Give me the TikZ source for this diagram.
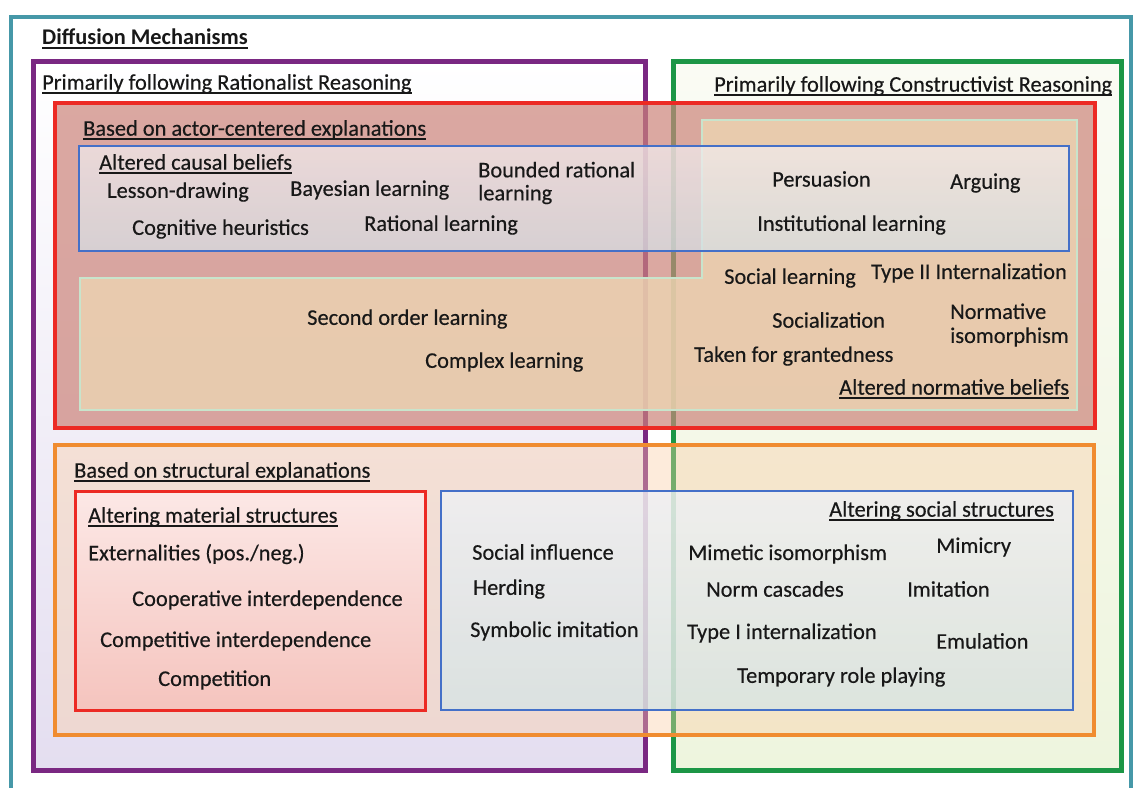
\documentclass[tikz,border=0pt]{standalone}
\usepackage{fontspec}
\setmainfont{Carlito}
\newfontfamily\txtfont{Carlito}[FakeBold=0.35]
\newsavebox{\undlbox}
\newcommand{\undl}[1]{\sbox{\undlbox}{#1}\rlap{\rule[-4.2pt]{\wd\undlbox}{1.5pt}}\usebox{\undlbox}}
\definecolor{teal}{RGB}{70,152,168}
\definecolor{purp}{RGB}{122,40,130}
\definecolor{purpfill}{RGB}{228,222,240}
\definecolor{grn}{RGB}{28,150,70}
\definecolor{grntop}{RGB}{250,251,244}
\definecolor{grnbot}{RGB}{238,245,222}
\definecolor{redl}{RGB}{236,42,36}
\definecolor{redfill}{RGB}{204,132,122}
\definecolor{tanfill}{RGB}{236,212,178}
\definecolor{tanline}{RGB}{200,228,204}
\definecolor{bluel}{RGB}{68,112,200}
\definecolor{bluetop}{RGB}{242,236,238}
\definecolor{bluebot}{RGB}{214,224,230}
\definecolor{orng}{RGB}{240,140,48}
\definecolor{orngfill}{RGB}{250,205,165}
\definecolor{mattop}{RGB}{252,232,230}
\definecolor{matbot}{RGB}{245,196,190}
\definecolor{soctop}{RGB}{238,241,246}
\definecolor{socbot}{RGB}{214,228,228}
\definecolor{txt}{RGB}{24,24,24}
\tikzset{
  lbl/.style={anchor=west, inner sep=0pt, text=txt, font=\txtfont\fontsize{22.4}{23}\selectfont},
  two/.style={lbl, align=left},
  frame/.style={line join=miter},
}
\begin{document}
\begin{tikzpicture}[x=1pt,y=-1pt]
\useasboundingbox (0,0) rectangle (1134,787);
\fill[white] (0,0) rectangle (1134,787);
\begin{scope}
\clip (0,0) rectangle (1134,787);
\draw[teal, line width=4] (11,17) rectangle (1131,800);
\end{scope}
% purple and green columns
\shade[top color=white, bottom color=purpfill] (33,61) rectangle (645,770);
\draw[purp, line width=5, frame] (33,61) rectangle (645,770);
\shade[top color=grntop, bottom color=grnbot] (673,61) rectangle (1121,770);
\draw[grn, line width=5, frame] (673,61) rectangle (1121,770);
% actor-centered box
\fill[redfill, fill opacity=0.7] (55,103) rectangle (1095,428);
% altered normative beliefs (tan)
\fill[tanfill, fill opacity=0.8] (702,120) -- (1077,120) -- (1077,410) -- (80,410) -- (80,278) -- (702,278) -- cycle;
\draw[tanline, line width=2] (702,120) -- (1077,120) -- (1077,410) -- (80,410) -- (80,278) -- (702,278) -- cycle;
\draw[redl, line width=4, frame] (55,103) rectangle (1095,428);
% altered causal beliefs (blue)
\shade[top color=bluetop, bottom color=bluebot, fill opacity=0.72] (79,146) rectangle (1069,251);
\draw[bluel, line width=2.5] (79,146) rectangle (1069,251);
% structural explanations (orange)
\fill[orngfill, fill opacity=0.4] (55,445) rectangle (1094,735);
\draw[orng, line width=4, frame] (55,445) rectangle (1094,735);
% altering material structures
\shade[top color=mattop, bottom color=matbot] (75,491) rectangle (425,710);
\draw[redl, line width=3, frame] (75,491) rectangle (425,710);
% altering social structures
\shade[top color=soctop, bottom color=socbot, fill opacity=0.78] (441,491) rectangle (1073,710);
\draw[bluel, line width=2.5, frame] (441,491) rectangle (1073,710);

% texts
\node[lbl, font=\fontsize{22.4}{23}\selectfont\bfseries] (dm) at (42,39) {\undl{Diffusion Mechanisms}};
\node[lbl] (rat) at (42,84) {\undl{Primarily following Rationalist Reasoning}};
\node[lbl] (con) at (714,86) {\undl{Primarily following Constructivist Reasoning}};
\node[lbl] (act) at (83,130) {\undl{Based on actor-centered explanations}};
\node[lbl] (acb) at (99,164) {\undl{Altered causal beliefs}};
\node[lbl] (les) at (107,192) {Lesson-drawing};
\node[lbl] (bay) at (290,190) {Bayesian learning};
\node[two] (bou) at (478,183) {Bounded rational\\learning};
\node[lbl] (cog) at (132,229) {Cognitive heuristics};
\node[lbl] (ral) at (364,225) {Rational learning};
\node[lbl] (per) at (772,179) {Persuasion};
\node[lbl] (arg) at (950,183) {Arguing};
\node[lbl] (ins) at (757,225) {Institutional learning};
\node[lbl] (sol) at (724,278) {Social learning};
\node[lbl] (t2i) at (871,273) {Type II Internalization};
\node[lbl] (soc) at (772,320) {Socialization};
\node[two, font=\txtfont\fontsize{22.4}{24}\selectfont] (nis) at (950,325) {Normative\\isomorphism};
\node[lbl] (tfg) at (694,356) {Taken for grantedness};
\node[lbl] (anb) at (839,389) {\undl{Altered normative beliefs}};
\node[lbl] (sec) at (307,319) {Second order learning};
\node[lbl] (cpx) at (425,362) {Complex learning};
\node[lbl] (str) at (74,472) {\undl{Based on structural explanations}};
\node[lbl] (ams) at (88,517) {\undl{Altering material structures}};
\node[lbl] (ext) at (88,554) {Externalities (pos./neg.)};
\node[lbl] (coo) at (132,600) {Cooperative interdependence};
\node[lbl] (cpt) at (100,641) {Competitive interdependence};
\node[lbl] (cmp) at (158,680) {Competition};
\node[lbl] (ass) at (829,511) {\undl{Altering social structures}};
\node[lbl] (sin) at (472,552) {Social influence};
\node[lbl] (her) at (473,589) {Herding};
\node[lbl] (sym) at (470,631) {Symbolic imitation};
\node[lbl] (mim) at (688,554) {Mimetic isomorphism};
\node[lbl] (mic) at (936,547) {Mimicry};
\node[lbl] (nor) at (706,589) {Norm cascades};
\node[lbl] (imi) at (907,589) {Imitation};
\node[lbl] (t1i) at (687,633) {Type I internalization};
\node[lbl] (emu) at (936,641) {Emulation};
\node[lbl] (trp) at (737,677) {Temporary role playing};
\end{tikzpicture}
\end{document}
